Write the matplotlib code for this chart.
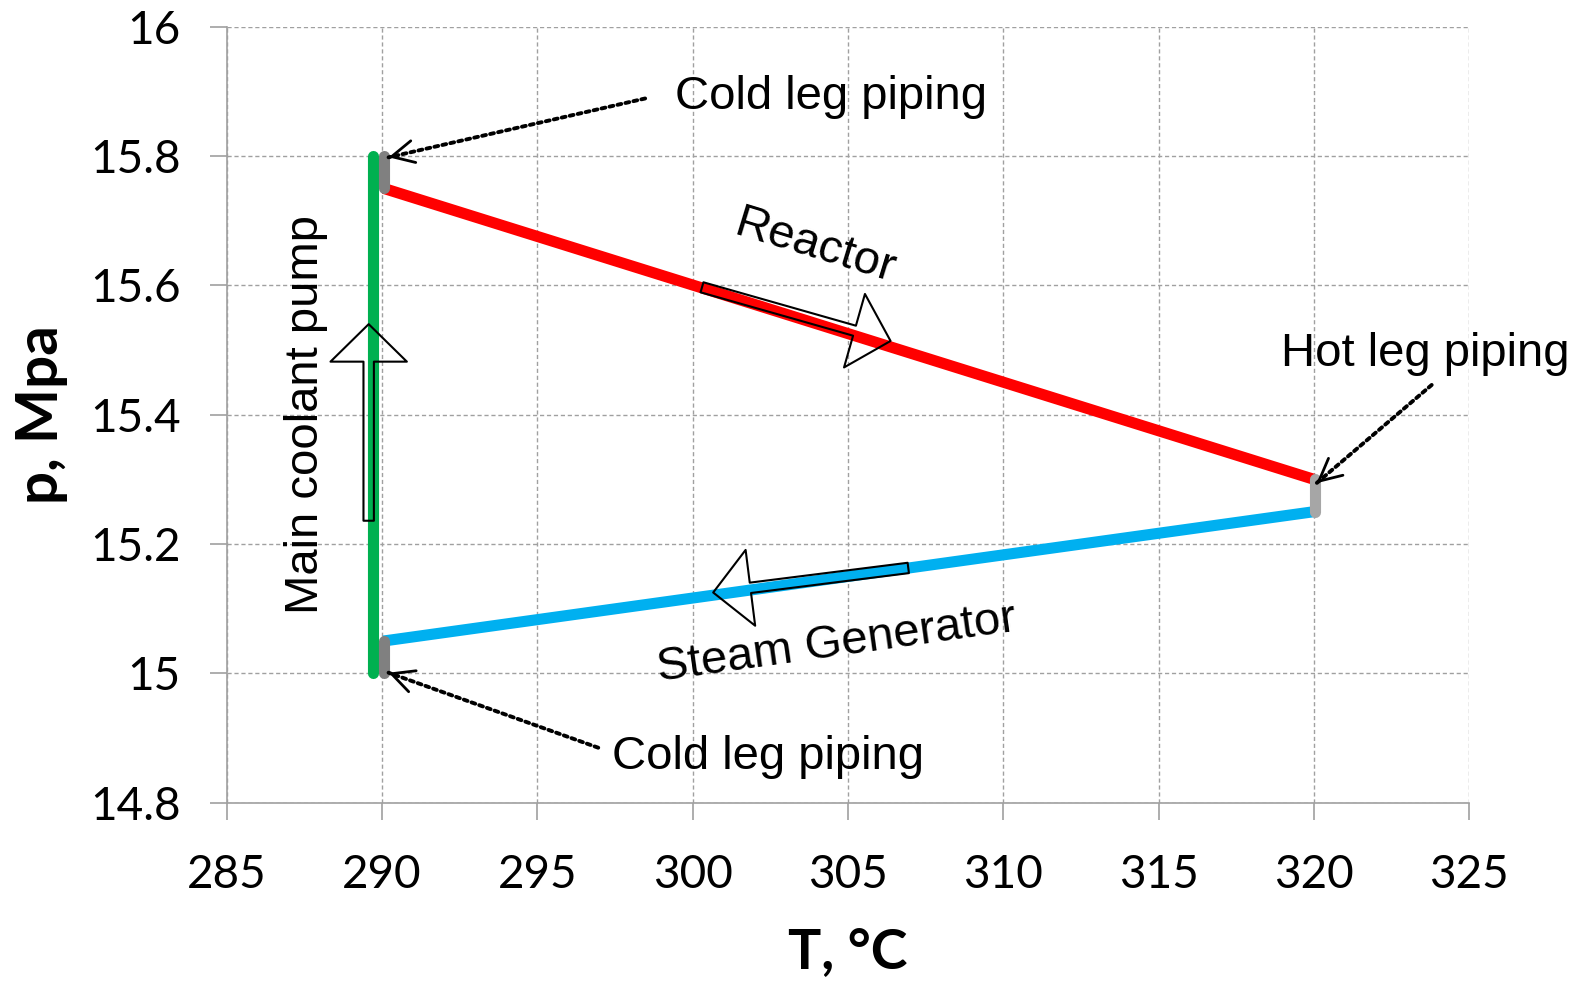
import numpy as np
import matplotlib
matplotlib.use('Agg')
import matplotlib.pyplot as plt

# pressure/temperature loop of the primary circuit
reactor_T = [290.05, 320.0]
reactor_p = [15.75, 15.30]
sg_T = [320.0, 290.05]
sg_p = [15.25, 15.05]
pump_T = [289.7, 289.7]
pump_p = [15.0, 15.8]
cold_top_T = [290.05, 290.05]
cold_top_p = [15.75, 15.80]
cold_bot_T = [290.05, 290.05]
cold_bot_p = [15.0, 15.05]
hot_T = [320.03, 320.03]
hot_p = [15.30, 15.25]

x_ticks = [285, 290, 295, 300, 305, 310, 315, 320, 325]
y_ticks = [14.8, 15.0, 15.2, 15.4, 15.6, 15.8, 16.0]
y_ticklabels = ['14.8', '15', '15.2', '15.4', '15.6', '15.8', '16']

fig = plt.figure(figsize=(15.91, 9.85), dpi=100)
ax = fig.add_axes([0.1425, 0.1851, 0.7810, 0.7878])

ax.plot(pump_T, pump_p, color='#00B050', lw=8, solid_capstyle='round', zorder=3)
ax.plot(reactor_T, reactor_p, color='#FF0000', lw=8, solid_capstyle='butt', zorder=3)
ax.plot(sg_T, sg_p, color='#00B0F0', lw=8, solid_capstyle='butt', zorder=3)
ax.plot(cold_top_T, cold_top_p, color='#808080', lw=8, solid_capstyle='round', zorder=4)
ax.plot(cold_bot_T, cold_bot_p, color='#808080', lw=8, solid_capstyle='round', zorder=4)
ax.plot(hot_T, hot_p, color='#A6A6A6', lw=8, solid_capstyle='round', zorder=4)

ax.set_xlim(285, 325)
ax.set_ylim(14.8, 16)
ax.set_xticks(x_ticks)
ax.set_yticks(y_ticks)
ax.set_yticklabels(y_ticklabels)

for s in ['top', 'right']:
    ax.spines[s].set_visible(False)
for s in ['left', 'bottom']:
    ax.spines[s].set_color('#A0A0A0')
    ax.spines[s].set_linewidth(1.2)

ax.grid(True, color='#A0A0A0', linestyle=(0, (3, 2)), lw=1.0)
ax.set_axisbelow(True)
ax.tick_params(axis='both', direction='out', length=12, width=1.2, color='#A0A0A0',
               labelsize=33)
ax.tick_params(axis='y', pad=21)
ax.tick_params(axis='x', pad=25)
for lab in ax.get_xticklabels() + ax.get_yticklabels():
    lab.set_family('Lato')

ax.set_xlabel('T, °C', fontsize=40, fontweight='bold', family='Lato', labelpad=22)
ax.set_ylabel('p, Mpa', fontsize=42, fontweight='bold', family='Lato', labelpad=16)

# hollow block arrows
blk = dict(arrowstyle='simple,head_length=27,head_width=55,tail_width=7.5',
           mutation_scale=1, fc='none', ec='black', lw=1.5, shrinkA=0, shrinkB=0)
ax.annotate('', xy=(306.37, 15.514), xytext=(300.30, 15.597), arrowprops=blk, zorder=5)
ax.annotate('', xy=(300.66, 15.125), xytext=(306.94, 15.163), arrowprops=blk, zorder=5)
ax.annotate('', xy=(289.57, 15.540), xytext=(289.57, 15.236), arrowprops=blk, zorder=5)

# dotted pointers
def pointer(tip, tail):
    ax.annotate('', xy=tip, xytext=tail,
                arrowprops=dict(arrowstyle='-', linestyle=(0, (1, 1.1)), lw=2.8,
                                color='black', shrinkA=0, shrinkB=0), zorder=6)
    near = (tip[0] + 0.02 * (tail[0] - tip[0]), tip[1] + 0.02 * (tail[1] - tip[1]))
    ax.annotate('', xy=tip, xytext=near,
                arrowprops=dict(arrowstyle='->,head_length=0.8,head_width=0.4',
                                mutation_scale=20, lw=2.0, color='black',
                                shrinkA=0, shrinkB=0), zorder=6)

pointer((290.21, 15.798), (298.47, 15.889))
pointer((290.21, 15.001), (296.96, 14.885))
pointer((320.08, 15.294), (323.79, 15.446))

tf = dict(fontsize=34, family='Liberation Sans', color='black', zorder=7)
ax.text(299.43, 15.891, 'Cold leg piping', ha='left', va='center', **tf)
ax.text(297.40, 14.871, 'Cold leg piping', ha='left', va='center', **tf)
ax.text(318.93, 15.494, 'Hot leg piping', ha='left', va='center', **tf)
ax.text(303.93, 15.659, 'Reactor', ha='center', va='center', rotation=-17,
        rotation_mode='anchor', **tf)
ax.text(304.64, 15.045, 'Steam Generator', ha='center', va='center', rotation=8,
        rotation_mode='anchor', **tf)
ax.text(287.55, 15.400, 'Main coolant pump', ha='center', va='center', rotation=90, **tf)

fig.savefig('out.png', dpi=100)
